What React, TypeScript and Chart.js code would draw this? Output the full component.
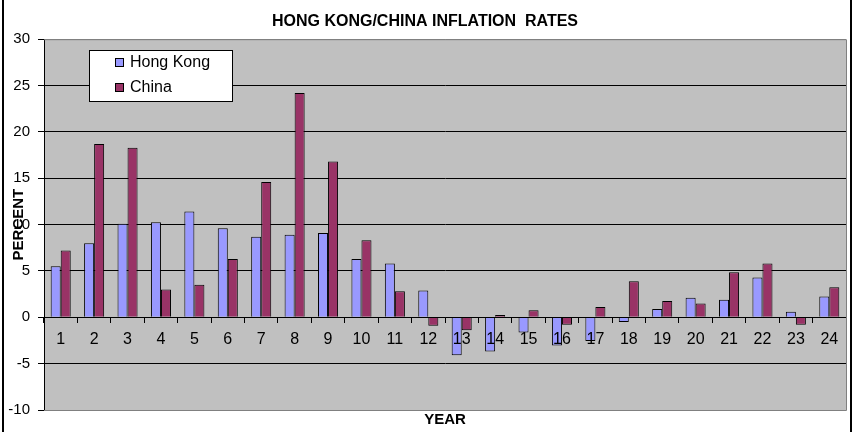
import React, { useEffect, useRef } from "react";
import { Chart, registerables } from "chart.js";

Chart.register(...registerables);

const years = ["1","2","3","4","5","6","7","8","9","10","11","12","13","14","15","16","17","18","19","20","21","22","23","24"];
const hongKong = [5.5, 8.0, 10.1, 10.25, 11.4, 9.6, 8.7, 8.9, 9.1, 6.3, 5.8, 2.9, -4.1, -3.7, -1.65, -3.05, -2.55, -0.5, 0.9, 2.1, 1.9, 4.3, 0.6, 2.25];
const china = [7.2, 18.7, 18.3, 3.0, 3.5, 6.3, 14.6, 24.2, 16.8, 8.3, 2.8, -0.9, -1.4, 0.25, 0.75, -0.8, 1.1, 3.9, 1.75, 1.5, 4.85, 5.8, -0.8, 3.25];
const seriesNames = ["Hong Kong", "China"];
const seriesColors = ["#9999FF", "#993366"];
const titleText = "HONG KONG/CHINA INFLATION  RATES";

const FONT = "'Liberation Sans', Arial, sans-serif";

const framePlugin = {
  id: "framePlugin",
  beforeDraw(chart: any) {
    const { ctx, chartArea } = chart;
    ctx.save();
    ctx.fillStyle = "#C0C0C0";
    ctx.fillRect(chartArea.left, chartArea.top, chartArea.right - chartArea.left, chartArea.bottom - chartArea.top);
    ctx.restore();
  },
  afterDraw(chart: any) {
    const { ctx, chartArea, width, height } = chart;
    ctx.save();
    ctx.strokeStyle = "#808080";
    ctx.lineWidth = 1;
    ctx.beginPath();
    ctx.moveTo(chartArea.left, chartArea.top + 0.5);
    ctx.lineTo(chartArea.right + 0.5, chartArea.top + 0.5);
    ctx.lineTo(chartArea.right + 0.5, chartArea.bottom + 0.5);
    ctx.lineTo(chartArea.left, chartArea.bottom + 0.5);
    ctx.stroke();
    ctx.strokeStyle = "#000";
    ctx.lineWidth = 2;
    ctx.beginPath();
    ctx.moveTo(3, 0);
    ctx.lineTo(3, height);
    ctx.moveTo(width - 5, 0);
    ctx.lineTo(width - 5, height);
    ctx.stroke();
    const bx = 89.5, by = 50.5, bw = 143, bh = 51;
    ctx.fillStyle = "#fff";
    ctx.fillRect(bx, by, bw, bh);
    ctx.strokeStyle = "#000";
    ctx.lineWidth = 1;
    ctx.strokeRect(bx, by, bw, bh);
    ctx.font = `16px ${FONT}`;
    ctx.textBaseline = "middle";
    ctx.textAlign = "left";
    chart.data.datasets.forEach((ds: any, i: number) => {
      const cy = 63 + i * 25;
      ctx.fillStyle = ds.backgroundColor;
      ctx.fillRect(115.5, cy - 4.5, 8, 8);
      ctx.strokeStyle = "#000";
      ctx.strokeRect(115.5, cy - 4.5, 8, 8);
      ctx.fillStyle = "#000";
      ctx.fillText(ds.label, 130, cy);
    });
    ctx.restore();
  },
};

export default function App() {
  const ref = useRef<HTMLCanvasElement>(null);
  useEffect(() => {
    if (!ref.current) return;
    const chart = new Chart(ref.current, {
      type: "bar",
      data: {
        labels: years,
        datasets: [
          { label: seriesNames[0], data: hongKong, backgroundColor: seriesColors[0], borderColor: "#000", borderWidth: 1, barPercentage: 1, categoryPercentage: 0.6 },
          { label: seriesNames[1], data: china, backgroundColor: seriesColors[1], borderColor: "#000", borderWidth: 1, barPercentage: 1, categoryPercentage: 0.6 },
        ],
      },
      options: {
        responsive: false,
        animation: false,
        layout: { padding: { left: 4, right: 10, top: 0, bottom: 0 } },
        plugins: {
          legend: { display: false },
          tooltip: { enabled: false },
          title: {
            display: true,
            text: titleText,
            color: "#000",
            font: { family: FONT, size: 16, weight: "bold" },
            padding: { top: 12, bottom: 8 },
          },
        },
        scales: {
          x: {
            position: "bottom",
            ticks: { display: false },
            grid: { display: false },
            border: { display: false },
            title: { display: true, text: "YEAR", color: "#000", font: { family: FONT, size: 15, weight: "bold" }, padding: { top: 0, bottom: 3 } },
            afterFit(scale: any) { scale.height = 22; },
          },
          x2: {
            type: "category",
            position: { y: 0 },
            offset: true,
            grid: { offset: true, drawOnChartArea: false, drawTicks: true, tickLength: 5, tickColor: "#000", z: 1 },
            border: { display: true, color: "#000", z: 1 },
            ticks: { z: 1, color: "#000", font: { family: FONT, size: 16 }, padding: 8, maxRotation: 0, autoSkip: false },
          },
          y: {
            min: -10,
            max: 30,
            ticks: { stepSize: 5, color: "#000", font: { family: FONT, size: 15 }, padding: 8 },
            grid: {
              color: (c: any) => (c.tick && (c.tick.value === 30 || c.tick.value === -10) ? "#808080" : "#000"),
              tickColor: "#000",
              tickLength: 6,
            },
            border: { display: true, color: "#000" },
            title: { display: true, text: "PERCENT", color: "#000", font: { family: FONT, size: 15, weight: "bold" }, padding: { top: 6, bottom: 0 } },
            afterFit(scale: any) { scale.width = 40; },
          },
        },
      },
      plugins: [framePlugin],
    } as any);
    return () => chart.destroy();
  }, []);
  return (
    <div style={{ position: "absolute", left: 0, top: 0, width: 856, height: 432, background: "#fff" }}>
      <canvas ref={ref} width={856} height={432} />
    </div>
  );
}
